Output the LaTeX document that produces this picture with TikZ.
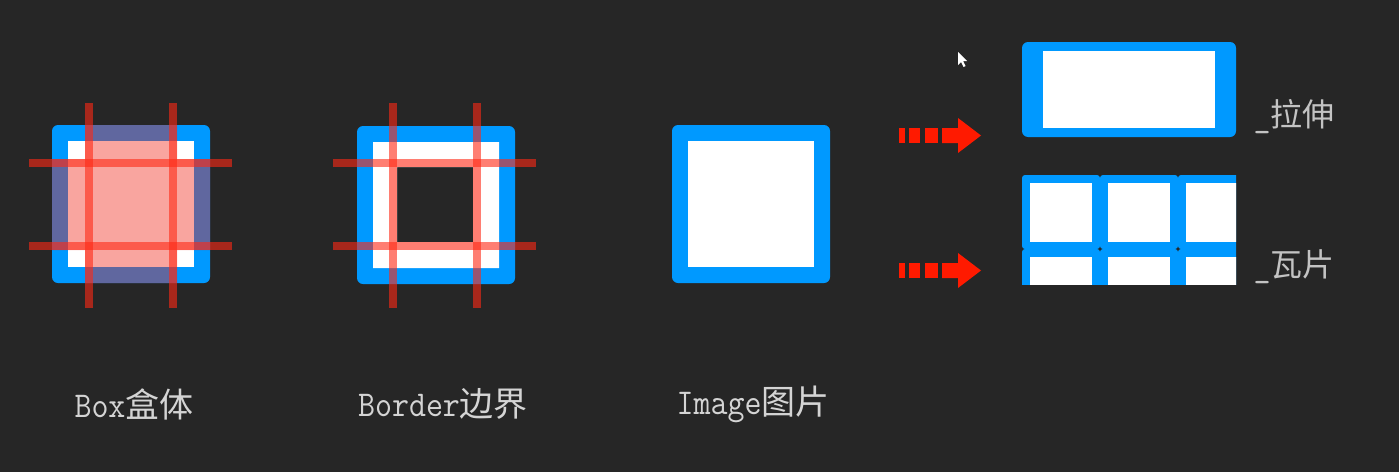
\documentclass[tikz,border=0pt]{standalone}
\usepackage{fontspec}
\usepackage{graphicx}
\newfontfamily\cjkf{Noto Sans CJK SC}
\definecolor{bg}{HTML}{262626}
\definecolor{bblue}{HTML}{0099FF}
\definecolor{lred}{RGB}{255,40,20}
\definecolor{ovl}{RGB}{240,30,17}
\definecolor{arr}{HTML}{FF1A00}
\definecolor{txt}{HTML}{D4D4D4}
\newcommand{\lt}[1]{\scalebox{1}[1.1]{\ttfamily\addfontfeatures{FakeBold=0.8}\fontsize{33}{38}\selectfont #1}}
\begin{document}
\begin{tikzpicture}[x=1pt,y=-1pt,
  frame/.style={fill=bblue, rounded corners=6pt},
  guide/.style={draw=lred, draw opacity=0.6, line width=8pt},
  lbl/.style={text=txt, inner sep=0pt, font=\cjkf\fontsize{34}{40}\selectfont},
  lblr/.style={text=txt!92!black, inner sep=0pt, font=\cjkf\fontsize{32}{38}\selectfont},
  dasharrow/.pic={
    \fill[arr] (0,-7.5) rectangle (6,7.5);
    \fill[arr] (10,-7.5) rectangle (21,7.5);
    \fill[arr] (26,-7.5) rectangle (39,7.5);
    \fill[arr] (43,-7.5) -- (59,-7.5) -- (59,-17.5) -- (82,0) -- (59,17.5) -- (59,7.5) -- (43,7.5) -- cycle;
  }]
\useasboundingbox (0,0) rectangle (1399,472);
\fill[bg] (0,0) rectangle (1399,472);

% Box
\begin{scope}[shift={(52,125)}]
  \fill[frame] (0,0) rectangle (158,158);
  \fill[white] (16,16) rectangle (142,142);
  \fill[ovl, fill opacity=0.4] (33,0) -- (125,0) -- (125,34) -- (158,34) -- (158,125) -- (125,125) -- (125,158) -- (33,158) -- (33,125) -- (0,125) -- (0,34) -- (33,34) -- cycle;
  \draw[guide] (37,-22) -- (37,183);
  \draw[guide] (121,-22) -- (121,183);
  \draw[guide] (-23,38) -- (180,38);
  \draw[guide] (-23,121) -- (180,121);
\end{scope}

% Border
\begin{scope}[shift={(357,126)}]
  \fill[bblue, even odd rule] [rounded corners=6pt] (0,0) rectangle (158,158) [sharp corners] (16,16) rectangle (142,142);
  \fill[white, even odd rule] (16,16) rectangle (142,142) (40,41) rectangle (116,116);
  \draw[guide] (36,-23) -- (36,182);
  \draw[guide] (120,-23) -- (120,182);
  \draw[guide] (-24,37) -- (179,37);
  \draw[guide] (-24,120) -- (179,120);
\end{scope}

% Image
\begin{scope}[shift={(672,125)}]
  \fill[frame] (0,0) rectangle (158,158);
  \fill[white] (16,16) rectangle (142,142);
\end{scope}

% arrows
\pic at (899,135.5) {dasharrow};
\pic at (899,270.5) {dasharrow};

% stretched
\fill[frame] (1022,42) rectangle (1236,137);
\fill[white] (1043,51) rectangle (1215,128);

% tiled
\begin{scope}
  \clip (1022,175) rectangle (1236,284);
  \foreach \i in {0,1,2} {
    \foreach \j in {0,1} {
      \begin{scope}[shift={({1022+78*\i},{175+74*\j})}]
        \fill[bblue, rounded corners=3pt] (0,0) rectangle (78,74);
        \fill[white] (8,8) rectangle (70,67);
      \end{scope}
    }
  }
\end{scope}

% cursor
\fill[white] (958,52) -- (958,65) -- (961,62) -- (963.5,67) -- (965.5,66) -- (963,61) -- (967,61) -- cycle;

% labels
\node[lbl] (lbox) at (134,404) {\lt{Box}盒体};
\node[lbl] (lborder) at (443,404) {\lt{Border}边界};
\node[lbl] (limage) at (753,404) {\lt{Image}图片};
\node[lblr] (lstretch) at (1294,117) {\lt{\_}拉伸};
\node[lblr] (ltile) at (1294,267) {\lt{\_}瓦片};
\end{tikzpicture}
\end{document}
